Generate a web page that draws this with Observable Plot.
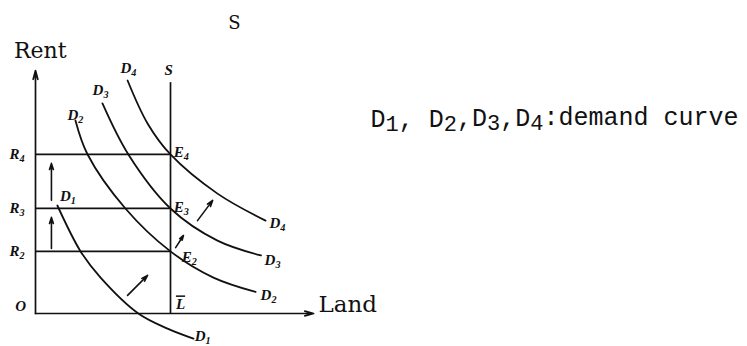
<!DOCTYPE html>
<html><head><meta charset="utf-8">
<script src="https://cdn.jsdelivr.net/npm/d3@7"></script>
<script src="https://cdn.jsdelivr.net/npm/@observablehq/plot@0.6"></script>
<style>
html,body{margin:0;padding:0;background:#fff;}
</style>
</head><body>
<div id="chart"></div>
<script>
// Demand curves (land quantity, rent)
const demandD1 = [[0.81,4.0],[1.67,2.3],[2.41,1.33],[3.81,0],[4.89,-0.56],[5.85,-0.93]];
const demandD2 = [[1.48,7.15],[1.93,5.89],[3.33,3.89],[5.0,2.30],[6.59,1.33],[8.15,0.8]];
const demandD3 = [[2.48,7.78],[3.44,5.89],[5.0,3.89],[6.74,2.70],[8.35,2.15]];
const demandD4 = [[3.41,8.63],[4.15,7.04],[5.0,5.89],[6.74,4.44],[8.52,3.44]];
// Fixed land supply and rent levels
const landSupply = 5.0;
const supplyTop = 8.55;
const rentLevels = [2.30, 3.89, 5.89];
const rentLabels = ["R2", "R3", "R4"];
const axisEnds = {x: 10.3, y: 9.0};
// Shift arrows
const shiftArrows = [
  {x1:0.59,y1:2.41,x2:0.59,y2:3.56},
  {x1:0.59,y1:4.19,x2:0.59,y2:5.56},
  {x1:3.41,y1:0.67,x2:4.15,y2:1.41},
  {x1:5.19,y1:2.44,x2:5.48,y2:2.89},
  {x1:6.0,y1:3.44,x2:6.56,y2:4.19}
];
// Curve labels
const curveLabels = [
  {x:3.44,y:9.07,t:"D4"},{x:2.41,y:8.26,t:"D3"},{x:1.48,y:7.33,t:"D2"},{x:1.2,y:4.35,t:"D1"},
  {x:8.96,y:3.33,t:"D4"},{x:8.78,y:1.96,t:"D3"},{x:8.63,y:0.67,t:"D2"},{x:6.19,y:-0.84,t:"D1"},
  {x:4.93,y:9.0,t:"S"},
  {x:5.4,y:5.96,t:"E4"},{x:5.4,y:3.93,t:"E3"},{x:5.7,y:2.1,t:"E2"},
  {x:5.37,y:0.33,t:"L"}
];
const originLabel = "O";
const yTitle = "Rent", xTitle = "Land", topTitle = "S";
const note = "D1, D2,D3,D4:demand curve";

// layout (pixel mapping)
const W = 747, H = 346, X0 = 35, Y0 = 313, U = 27;

const toPts = a => a.map(([x,y]) => ({x,y}));
const curves = [demandD1,demandD2,demandD3,demandD4];
const ink = "#111";
const lineMarks = curves.map(c => Plot.line(toPts(c), {x:"x", y:"y", curve:"catmull-rom", stroke:ink, strokeWidth:1.8}));

const labelFont = {fill:ink, fontSize:15, fontStyle:"italic", fontWeight:"bold", fontFamily:"Liberation Serif"};
const plot = Plot.plot({
  width: W, height: H, margin: 0,
  style: {background:"#fff", overflow:"visible"},
  x: {domain:[-X0/U, (W-X0)/U], range:[0,W], axis:null},
  y: {domain:[-(H-Y0)/U, Y0/U], range:[H,0], axis:null},
  marks: [
    // axes
    Plot.arrow([{x1:0,y1:0,x2:0,y2:axisEnds.y}], {x1:"x1",y1:"y1",x2:"x2",y2:"y2", stroke:ink, strokeWidth:1.7, headLength:8, headAngle:30}),
    Plot.arrow([{x1:0,y1:0,x2:axisEnds.x,y2:0}], {x1:"x1",y1:"y1",x2:"x2",y2:"y2", stroke:ink, strokeWidth:1.7, headLength:8, headAngle:30}),
    // supply line
    Plot.ruleX([landSupply], {y1:0, y2:supplyTop, stroke:ink, strokeWidth:1.7}),
    // rent levels
    Plot.ruleY(rentLevels, {x1:0, x2:landSupply, stroke:ink, strokeWidth:1.7}),
    ...lineMarks,
    Plot.arrow(shiftArrows, {x1:"x1",y1:"y1",x2:"x2",y2:"y2", stroke:ink, strokeWidth:1.6, headLength:6, headAngle:35}),
    // labels
    Plot.text(curveLabels, {x:"x", y:"y", text:"t", ...labelFont}),
    Plot.text(rentLevels, {x:-0.68, y:d=>d, text:(d,i)=>rentLabels[i], ...labelFont}),
    Plot.text([originLabel], {x:-0.55, y:0.26, text:d=>d, ...labelFont}),
    Plot.text([yTitle], {x:-0.8, y:9.48, text:d=>d, textAnchor:"start", lineAnchor:"bottom", fill:ink, fontSize:22, fontFamily:"DejaVu Serif"}),
    Plot.text([xTitle], {x:10.48, y:0.05, text:d=>d, textAnchor:"start", lineAnchor:"bottom", fill:ink, fontSize:23, fontFamily:"DejaVu Serif"}),
    Plot.text([topTitle], {x:7.37, y:10.75, text:d=>d, fill:ink, fontSize:18, fontFamily:"DejaVu Serif"}),
    Plot.text([note], {x:12.41, y:7.19, text:d=>d, textAnchor:"start", lineAnchor:"middle", fill:ink, fontSize:25, fontFamily:"Liberation Mono"})
  ]
});

// turn digits into subscripts; overline on L
d3.select(plot).selectAll("text").each(function(){
  const el = d3.select(this);
  const s = this.textContent;
  if (s === "L") { el.attr("text-decoration", "overline"); return; }
  if (!/\d/.test(s) || this.querySelector("tspan")) return;
  const big = s.length > 6;
  el.text(null);
  const parts = s.match(/\d+|\D+/g);
  let shifted = false;
  parts.forEach(p => {
    const isNum = /^\d+$/.test(p);
    const ts = el.append("tspan").text(p);
    if (isNum) { ts.attr("dy", big ? "0.18em" : "0.3em").attr("font-size", big ? "88%" : "68%"); shifted = true; }
    else if (shifted) { ts.attr("dy", big ? "-0.18em" : "-0.3em"); shifted = false; }
  });
});
document.getElementById("chart").appendChild(plot);
</script>
</body></html>
